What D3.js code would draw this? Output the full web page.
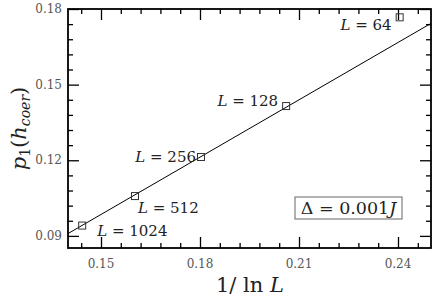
<!DOCTYPE html>
<html>
<head>
<meta charset="utf-8">
<script src="https://cdn.jsdelivr.net/npm/d3@7"></script>
<style>
  body { margin: 0; background: #fff; }
</style>
</head>
<body>
<div id="chart"></div>
<script>
// data
var sizes = [64, 128, 256, 512, 1024];
var xvals = [0.2405, 0.2061, 0.1803, 0.1603, 0.1443];
var yvals = [0.1767, 0.1415, 0.1213, 0.1058, 0.0941];
var fitSlope = 0.758, fitIntercept = -0.0152;
var xTicks = [0.15, 0.18, 0.21, 0.24];
var yTicks = [0.09, 0.12, 0.15, 0.18];

// label offsets relative to point (dx, dy, anchor)
var labelPos = {
  64:   [-8, 13, "end"],
  128:  [-8, 0, "end"],
  256:  [-5, 5, "end"],
  512:  [3, 17, "start"],
  1024: [15, 10, "start"]
};

var FONT = "DejaVu Serif";

var W = 436, H = 300;
var margin = { top: 9, right: 5, bottom: 52, left: 68 },
  width = W - margin.left - margin.right,
  height = H - margin.top - margin.bottom;

var x = d3.scaleLinear().domain([0.14, 0.25]).range([0, width]);
var y = d3.scaleLinear().domain([0.0852, 0.18]).range([height, 0]);

var svg = d3.select("#chart").append("svg")
  .attr("width", W).attr("height", H)
  .attr("font-family", FONT);
var g = svg.append("g")
  .attr("transform", "translate(" + margin.left + "," + margin.top + ")");

// minor ticks every 0.006
var xMinor = d3.range(0.144, 0.2501, 0.006);
var yMinor = d3.range(0.09, 0.1801, 0.006);
function isMajor(v) { return Math.abs(v / 0.03 - Math.round(v / 0.03)) < 1e-6; }

// bottom axis
g.append("g").attr("transform", "translate(0," + height + ")")
  .call(d3.axisBottom(x).tickValues(xMinor).tickSizeOuter(0).tickFormat(""))
  .call(s => s.selectAll(".tick line").attr("y2", d => isMajor(d) ? -11 : -5));
// top axis
g.append("g").call(d3.axisTop(x).tickValues(xMinor).tickSizeOuter(0).tickFormat(""))
  .call(s => s.selectAll(".tick line").attr("y2", d => isMajor(d) ? 11 : 5));
// left axis
g.append("g").call(d3.axisLeft(y).tickValues(yMinor).tickSizeOuter(0).tickFormat(""))
  .call(s => s.selectAll(".tick line").attr("x2", d => isMajor(d) ? 11 : 5));
// right axis
g.append("g").attr("transform", "translate(" + width + ",0)")
  .call(d3.axisRight(y).tickValues(yMinor).tickSizeOuter(0).tickFormat(""))
  .call(s => s.selectAll(".tick line").attr("x2", d => isMajor(d) ? -11 : -5));

g.selectAll(".domain").remove();
g.selectAll(".tick line").attr("stroke", "#000").attr("stroke-width", 1.3);

// frame
g.append("rect").attr("width", width).attr("height", height)
  .attr("fill", "none").attr("stroke", "#000").attr("stroke-width", 1.8);

// tick labels
g.selectAll(".xlab").data(xTicks).enter().append("text")
  .attr("x", d => x(d)).attr("y", height + 20)
  .attr("text-anchor", "middle").attr("font-size", 12).attr("fill", "#555")
  .text(d => d3.format(".2f")(d));
g.selectAll(".ylab").data(yTicks).enter().append("text")
  .attr("x", -6).attr("y", d => y(d) + 4)
  .attr("text-anchor", "end").attr("font-size", 12).attr("fill", "#555")
  .text(d => d3.format(".2f")(d));

// fit line
var fitData = x.domain().map(v => ({ x: v, y: fitSlope * v + fitIntercept }));
g.append("clipPath").attr("id", "clip").append("rect").attr("width", width).attr("height", height);
g.append("path").datum(fitData)
  .attr("clip-path", "url(#clip)")
  .attr("d", d3.line().x(d => x(d.x)).y(d => y(d.y)))
  .attr("fill", "none").attr("stroke", "#000").attr("stroke-width", 1);

// points
var pts = sizes.map((L, i) => ({ L: L, x: xvals[i], y: yvals[i] }));
g.selectAll(".pt").data(pts).enter().append("rect")
  .attr("x", d => x(d.x) - 3.5).attr("y", d => y(d.y) - 3.5)
  .attr("width", 7).attr("height", 7)
  .attr("fill", "none").attr("stroke", "#333").attr("stroke-width", 1);

// point labels
var lab = g.selectAll(".plab").data(pts).enter().append("text")
  .attr("x", d => x(d.x) + labelPos[d.L][0])
  .attr("y", d => y(d.y) + labelPos[d.L][1])
  .attr("text-anchor", d => labelPos[d.L][2])
  .attr("font-size", 15).attr("fill", "#222");
lab.append("tspan").attr("font-style", "italic").text("L");
lab.append("tspan").text(d => " = " + d.L);

// legend box
var leg = g.append("g").attr("transform", "translate(" + (295 - margin.left) + "," + (197 - margin.top) + ")");
leg.append("rect").attr("width", 107).attr("height", 22)
  .attr("fill", "none").attr("stroke", "#666").attr("stroke-width", 1);
var lt = leg.append("text").attr("x", 53.5).attr("y", 17).attr("text-anchor", "middle")
  .attr("font-size", 17.5).attr("fill", "#222");
lt.append("tspan").text("\u0394 = 0.001");
lt.append("tspan").attr("font-style", "italic").text("J");

// axis titles
var xt = svg.append("text").attr("x", 250).attr("y", 292).attr("text-anchor", "middle")
  .attr("font-size", 21).attr("fill", "#222");
xt.append("tspan").text("1/ ln ");
xt.append("tspan").attr("font-style", "italic").text("L");

var yt = svg.append("text")
  .attr("transform", "translate(26," + (margin.top + height / 2) + ") rotate(-90)")
  .attr("text-anchor", "middle").attr("font-size", 21).attr("fill", "#222");
yt.append("tspan").attr("font-style", "italic").text("p");
yt.append("tspan").attr("font-size", 14).attr("dy", 4).text("1");
yt.append("tspan").attr("dy", -4).text("(");
yt.append("tspan").attr("font-style", "italic").text("h");
yt.append("tspan").attr("font-style", "italic").attr("font-size", 14).attr("dy", 4).text("coer");
yt.append("tspan").attr("dy", -4).text(")");
</script>
</body>
</html>
